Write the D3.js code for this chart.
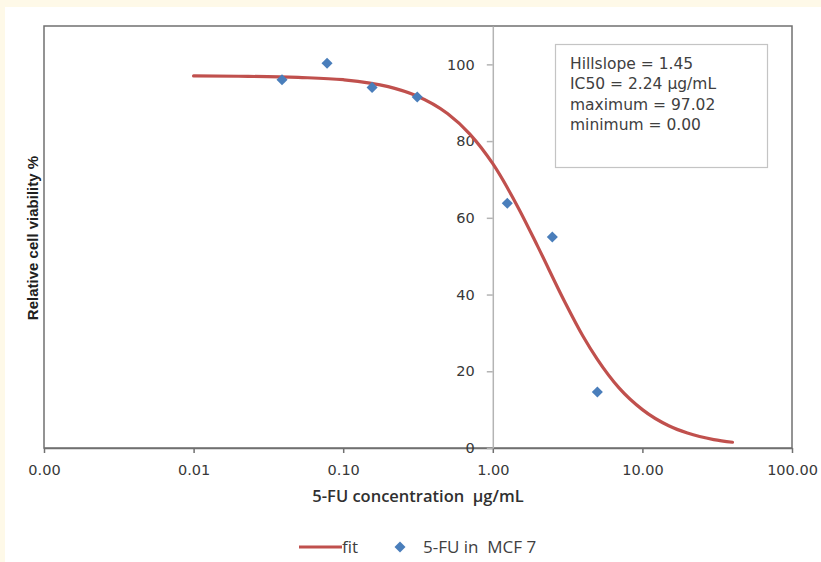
<!DOCTYPE html>
<html>
<head>
<meta charset="utf-8">
<script src="https://cdn.jsdelivr.net/npm/d3@7"></script>
<style>
  body { margin: 0; background: #fef9e8; }
  svg { display: block; }
  .tick text { font-family: "DejaVu Sans", sans-serif; font-size: 14.5px; fill: #383838; }
</style>
</head>
<body>
<div id="chart"></div>
<script>
// measured points
const conc = [0.039, 0.078, 0.156, 0.3125, 1.25, 2.5, 5];
const viability = [96.0, 100.3, 94.0, 91.5, 63.8, 55.0, 14.6];

// fit curve
const fitConc = [0.01, 0.02, 0.05, 0.1, 0.2, 0.3, 0.5, 0.7, 1, 1.5, 2, 3, 4, 5, 7, 10, 15, 20, 30, 40];
const fitVal = [97.0, 96.9, 96.6, 96.0, 94.2, 92.0, 87.1, 81.9, 74.1, 62.2, 52.5, 38.4, 29.2, 23.1, 15.6, 10.0, 5.8, 3.9, 2.2, 1.5];

const xTicks = [0.001, 0.01, 0.1, 1, 10, 100];
const yTicks = [0, 20, 40, 60, 80, 100];
const statLines = ["Hillslope = 1.45", "IC50 = 2.24 \u00b5g/mL", "maximum = 97.02", "minimum = 0.00"];

const svgWidth = 821, svgHeight = 562;
const margin = { top: 26, right: 29, bottom: 114, left: 44 };
const width = svgWidth - margin.left - margin.right;
const height = svgHeight - margin.top - margin.bottom;

const svg = d3.select("#chart").append("svg")
  .attr("width", svgWidth)
  .attr("height", svgHeight);

// white sheet with the yellow page showing at top/left
svg.append("rect")
  .attr("x", 5).attr("y", 7)
  .attr("width", svgWidth - 5).attr("height", svgHeight - 7)
  .attr("fill", "#ffffff");

const x = d3.scaleLog().domain([0.001, 100]).range([margin.left, margin.left + width]);
const y = d3.scaleLinear().domain([0, 110]).range([margin.top + height, margin.top]);

// plot frame
svg.append("rect")
  .attr("x", margin.left).attr("y", margin.top)
  .attr("width", width).attr("height", height)
  .attr("fill", "none")
  .attr("stroke", "#707070")
  .attr("stroke-width", 1.5);

// x axis
const xAxis = svg.append("g")
  .attr("transform", `translate(0,${margin.top + height})`)
  .call(d3.axisBottom(x).tickValues(xTicks).tickFormat(d3.format(".2f")).tickSize(5).tickPadding(12).tickSizeOuter(0));
xAxis.select(".domain").attr("stroke", "#707070").attr("stroke-width", 1.5);
xAxis.selectAll(".tick line").attr("stroke", "#707070").attr("stroke-width", 1.5);

// y axis sits at x = 1
const yAxis = svg.append("g")
  .attr("transform", `translate(${x(1)},0)`)
  .call(d3.axisLeft(y).tickValues(yTicks).tickSize(6).tickPadding(12).tickSizeOuter(0));
yAxis.select(".domain").attr("stroke", "#b4b4b4").attr("stroke-width", 1.5);
yAxis.selectAll(".tick line").attr("stroke", "#b4b4b4").attr("stroke-width", 1.5);

// fit line
const line = d3.line()
  .x((d, i) => x(fitConc[i]))
  .y(d => y(d))
  .curve(d3.curveMonotoneX);

svg.append("path")
  .datum(fitVal)
  .attr("d", line)
  .attr("fill", "none")
  .attr("stroke", "#c0504d")
  .attr("stroke-width", 3.2)
  .attr("stroke-linecap", "round");

// data points
const diamond = d3.symbol().type(d3.symbolDiamond2).size(78);
svg.selectAll(".pt")
  .data(viability)
  .enter()
  .append("path")
  .attr("class", "pt")
  .attr("transform", (d, i) => `translate(${x(conc[i])},${y(d)})`)
  .attr("d", diamond)
  .attr("fill", "#4a7ebb");

// stats box
const box = svg.append("g");
box.append("rect")
  .attr("x", 555.5).attr("y", 44.5)
  .attr("width", 212).attr("height", 123)
  .attr("fill", "#ffffff")
  .attr("stroke", "#c4c4c4")
  .attr("stroke-width", 1.2);
box.selectAll("text")
  .data(statLines)
  .enter()
  .append("text")
  .attr("x", 570)
  .attr("y", (d, i) => 63.5 + i * 20.3)
  .attr("dy", "0.35em")
  .attr("font-family", "'DejaVu Sans', sans-serif")
  .attr("font-size", 15.5)
  .attr("fill", "#404040")
  .text(d => d);

// axis titles
svg.append("text")
  .attr("x", x(0.001) + width / 2)
  .attr("y", 496)
  .attr("dy", "0.35em")
  .attr("text-anchor", "middle")
  .attr("font-family", "'Open Sans', sans-serif")
  .attr("font-weight", 600)
  .attr("font-size", 16.5)
  .attr("fill", "#303030")
  .style("white-space", "pre")
  .text("5-FU concentration  \u00b5g/mL");

svg.append("text")
  .attr("transform", "translate(33,238) rotate(-90)")
  .attr("dy", "0.35em")
  .attr("text-anchor", "middle")
  .attr("font-family", "'Liberation Sans', Arial, sans-serif")
  .attr("font-weight", "bold")
  .attr("font-size", 15)
  .attr("fill", "#202020")
  .text("Relative cell viability %");

// legend
const legend = svg.append("g");
legend.append("line")
  .attr("x1", 299).attr("x2", 342)
  .attr("y1", 547).attr("y2", 547)
  .attr("stroke", "#c0504d")
  .attr("stroke-width", 3.2);
legend.append("text")
  .attr("x", 342).attr("y", 547)
  .attr("dy", "0.35em")
  .attr("font-family", "'Open Sans', sans-serif")
  .attr("font-size", 17)
  .attr("fill", "#404040")
  .text("fit");
legend.append("path")
  .attr("transform", "translate(400,547)")
  .attr("d", diamond)
  .attr("fill", "#4a7ebb");
legend.append("text")
  .attr("x", 423).attr("y", 547)
  .attr("dy", "0.35em")
  .attr("font-family", "'Open Sans', sans-serif")
  .attr("font-size", 17)
  .attr("fill", "#404040")
  .style("white-space", "pre")
  .text("5-FU in  MCF 7");
</script>
</body>
</html>
